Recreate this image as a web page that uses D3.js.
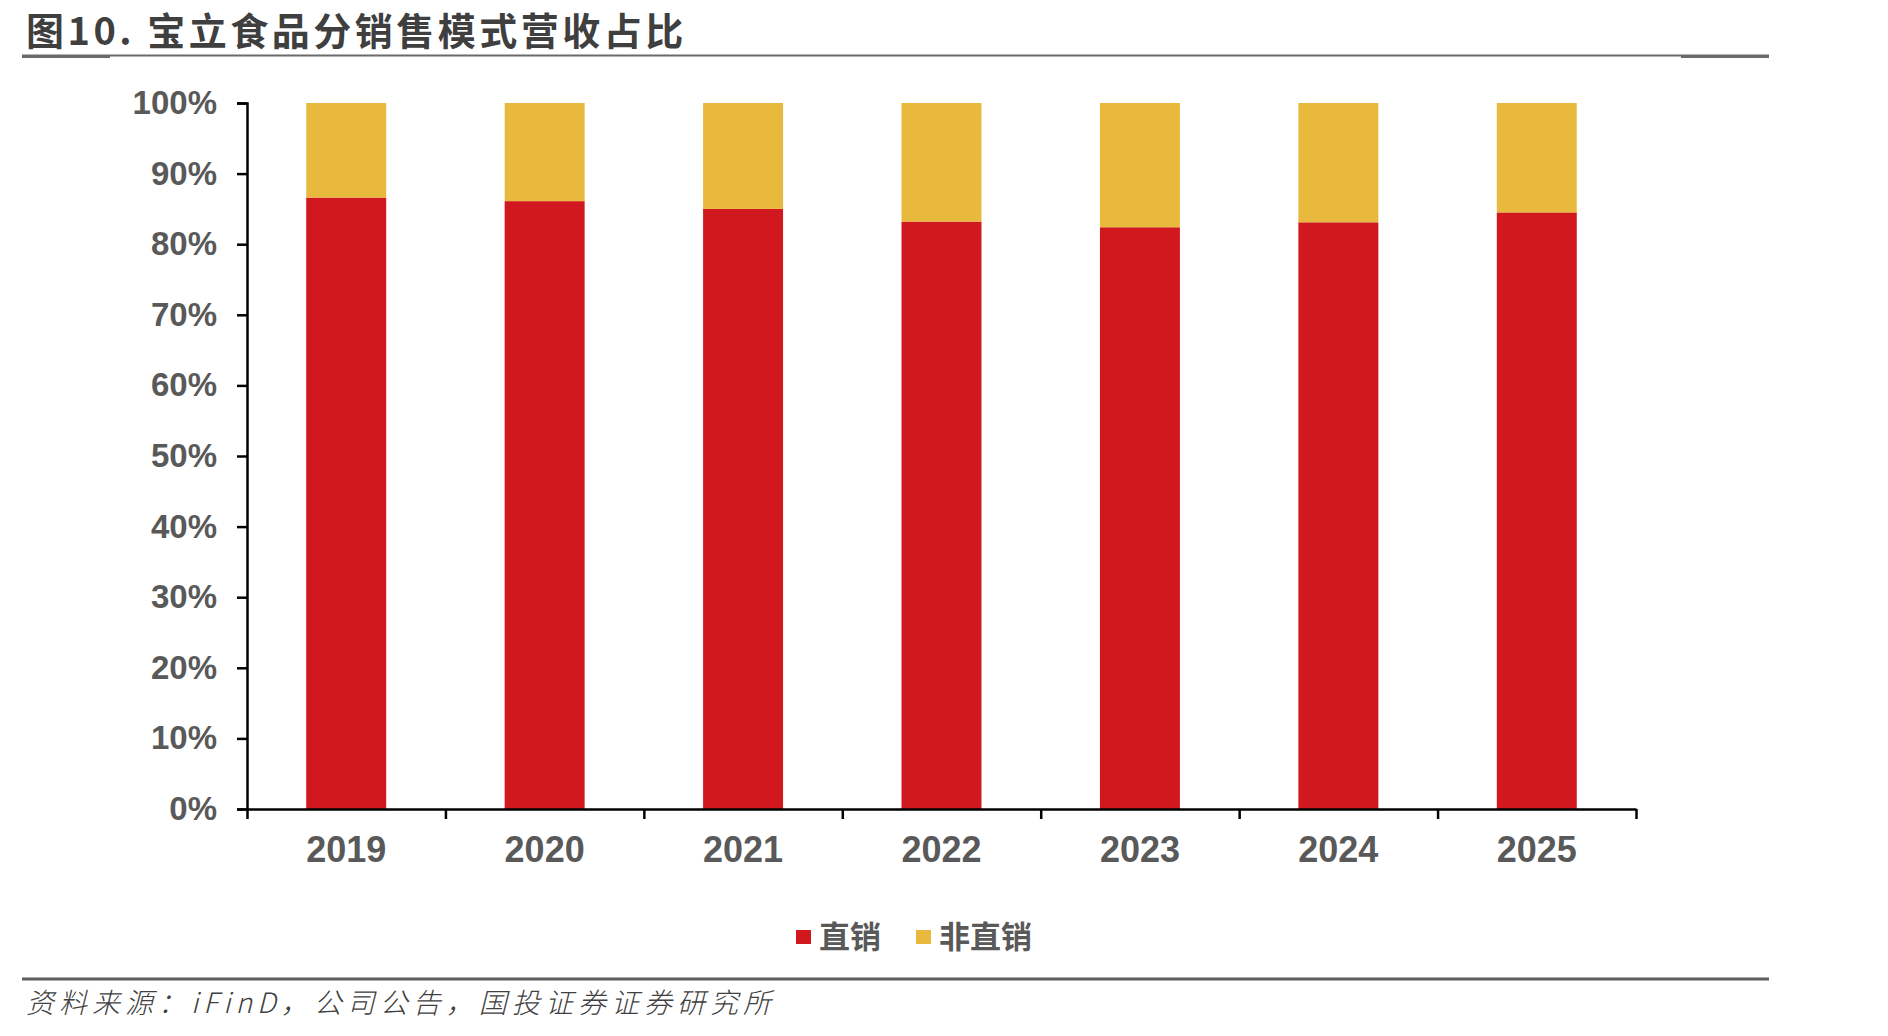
<!DOCTYPE html>
<html>
<head>
<meta charset="utf-8">
<script src="https://cdn.jsdelivr.net/npm/d3@7"></script>
<style>
  html, body { margin: 0; padding: 0; background: #fff; }
  svg { display: block; }
</style>
</head>
<body>
<div id="chart"></div>
<script>
// <---------------- data ---------------->
var years = ["2019", "2020", "2021", "2022", "2023", "2024", "2025"];
var direct = [86.6, 86.1, 85.0, 83.2, 82.4, 83.1, 84.5];      // 直销 %
var indirect = [13.4, 13.9, 15.0, 16.8, 17.6, 16.9, 15.5];    // 非直销 %
var seriesNames = ["直销", "非直销"];
var yTicks = [0, 10, 20, 30, 40, 50, 60, 70, 80, 90, 100];

var W = 1888, H = 1036;
var colors = ["#D1181E", "#E8B93C"];
var cjk = "'Noto Sans CJK SC', 'Noto Sans', sans-serif";
var latin = "'Liberation Sans', Arial, sans-serif";

var svg = d3.select("#chart").append("svg").attr("width", W).attr("height", H);

// <---------------- title and rules ---------------->
svg.append("text")
  .attr("x", 26).attr("y", 45)
  .attr("font-family", cjk).attr("font-weight", "bold")
  .attr("font-size", 38).attr("fill", "#3f3f3f")
  .attr("letter-spacing", 3.5)
  .text("图10. 宝立食品分销售模式营收占比");

svg.append("line").attr("x1", 22).attr("x2", 1769).attr("y1", 55.5).attr("y2", 55.5)
  .attr("stroke", "#6a6a6a").attr("stroke-width", 2);
svg.append("line").attr("x1", 22).attr("x2", 110).attr("y1", 56.5).attr("y2", 56.5)
  .attr("stroke", "#6a6a6a").attr("stroke-width", 3);
svg.append("line").attr("x1", 1681).attr("x2", 1769).attr("y1", 56.5).attr("y2", 56.5)
  .attr("stroke", "#6a6a6a").attr("stroke-width", 3);

svg.append("line").attr("x1", 22).attr("x2", 1769).attr("y1", 979).attr("y2", 979)
  .attr("stroke", "#5f5f5f").attr("stroke-width", 3);

svg.append("text")
  .attr("x", 26).attr("y", 1013)
  .attr("font-family", cjk).attr("font-style", "italic").attr("font-weight", 300)
  .attr("font-size", 28).attr("fill", "#404040")
  .attr("textLength", 745).attr("lengthAdjust", "spacing")
  .text("资料来源：iFinD，公司公告，国投证券证券研究所");

// <---------------- scales ---------------->
var x0 = 247, x1 = 1636, yTop = 103, yBot = 809;
var x = d3.scaleBand().domain(years).range([x0, x1])
  .paddingInner(0.597).paddingOuter(0.2985);
var xEdge = d3.scaleLinear().domain([0, years.length]).range([x0, x1]);
var y = d3.scaleLinear().domain([0, 100]).range([yBot, yTop]);

// <---------------- stacked bars ---------------->
var rows = years.map(function(yr, i) {
  return { year: yr, a: direct[i], b: indirect[i] };
});
var stack = d3.stack().keys(["a", "b"])(rows);

svg.append("g").selectAll("g")
  .data(stack)
  .enter().append("g")
  .attr("fill", function(d, i) { return colors[i]; })
  .selectAll("rect")
  .data(function(d) { return d; })
  .enter().append("rect")
  .attr("x", function(d) { return x(d.data.year); })
  .attr("width", x.bandwidth())
  .attr("y", function(d) { return y(Math.min(d[1], 100)); })
  .attr("height", function(d) { return y(d[0]) - y(Math.min(d[1], 100)); });

// <---------------- axes ---------------->
var yAxis = svg.append("g")
  .attr("transform", "translate(" + x0 + ",0)")
  .call(d3.axisLeft(y).tickValues(yTicks).tickSize(10).tickSizeOuter(10).tickPadding(20)
    .tickFormat(function(d) { return d + "%"; }));
yAxis.select(".domain").attr("stroke", "#000").attr("stroke-width", 2.5);
yAxis.selectAll(".tick line").attr("stroke", "#000").attr("stroke-width", 2.5);
yAxis.selectAll(".tick text")
  .attr("font-family", latin).attr("font-weight", "bold")
  .attr("font-size", 33).attr("fill", "#595959");

var xTicks = svg.append("g")
  .attr("transform", "translate(0," + yBot + ")")
  .call(d3.axisBottom(xEdge).tickValues(d3.range(years.length + 1)).tickSize(10).tickSizeOuter(0)
    .tickFormat(""));
xTicks.select(".domain").attr("stroke", "#000").attr("stroke-width", 2.5);
xTicks.selectAll(".tick line").attr("stroke", "#000").attr("stroke-width", 2.5);

var xLabels = svg.append("g")
  .attr("transform", "translate(0," + yBot + ")")
  .call(d3.axisBottom(x).tickSize(0).tickPadding(27));
xLabels.select(".domain").remove();
xLabels.selectAll(".tick text")
  .attr("font-family", latin).attr("font-weight", "bold")
  .attr("font-size", 36).attr("fill", "#595959");

// <---------------- legend ---------------->
var legendX = [796, 916];
var legend = svg.append("g").selectAll("g")
  .data(seriesNames)
  .enter().append("g")
  .attr("transform", function(d, i) { return "translate(" + legendX[i] + ",930)"; });
legend.append("rect").attr("width", 15).attr("height", 14)
  .attr("fill", function(d, i) { return colors[i]; });
legend.append("text")
  .attr("x", 23).attr("y", 18)
  .attr("font-family", cjk).attr("font-weight", "bold")
  .attr("font-size", 31).attr("fill", "#595959")
  .text(function(d) { return d; });
</script>
</body>
</html>
